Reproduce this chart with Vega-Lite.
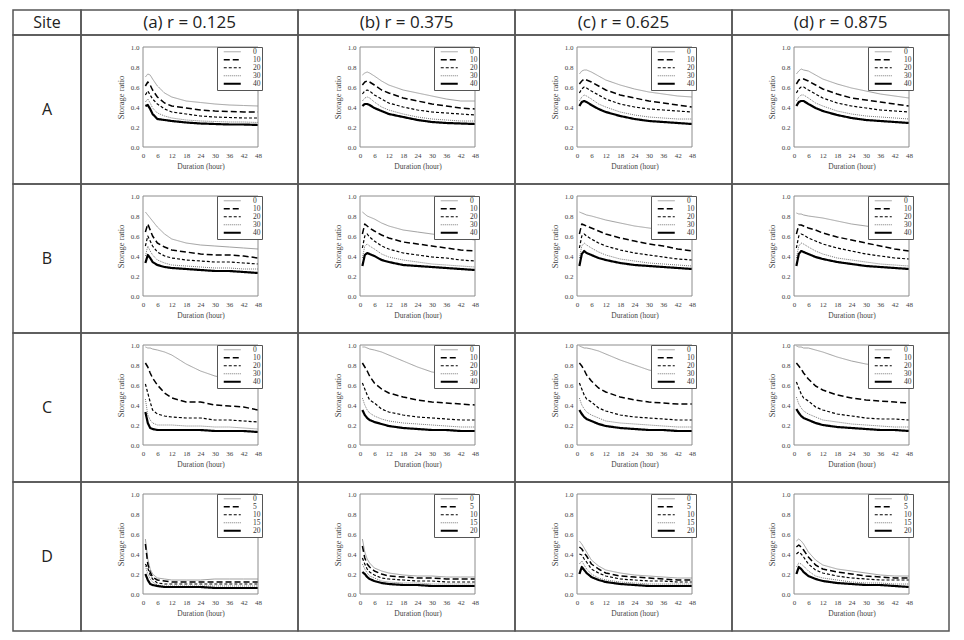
{
"$schema": "https://vega.github.io/schema/vega-lite/v6.json",
"background": "white",
"padding": {"left": 12, "top": 9, "right": 5, "bottom": 5},
"datasets": {
"A": [
{"r":0.125,"d":1,"0":0.70,"10":0.61,"20":0.52,"30":0.45,"40":0.41},
{"r":0.125,"d":2,"0":0.73,"10":0.65,"20":0.56,"30":0.48,"40":0.42},
{"r":0.125,"d":3,"0":0.72,"10":0.62,"20":0.52,"30":0.44,"40":0.38},
{"r":0.125,"d":4,"0":0.68,"10":0.57,"20":0.48,"30":0.39,"40":0.33},
{"r":0.125,"d":6,"0":0.61,"10":0.50,"20":0.43,"30":0.34,"40":0.28},
{"r":0.125,"d":9,"0":0.54,"10":0.44,"20":0.38,"30":0.31,"40":0.27},
{"r":0.125,"d":12,"0":0.50,"10":0.41,"20":0.35,"30":0.29,"40":0.26},
{"r":0.125,"d":18,"0":0.46,"10":0.39,"20":0.33,"30":0.27,"40":0.245},
{"r":0.125,"d":24,"0":0.445,"10":0.37,"20":0.31,"30":0.26,"40":0.235},
{"r":0.125,"d":30,"0":0.43,"10":0.36,"20":0.30,"30":0.255,"40":0.23},
{"r":0.125,"d":36,"0":0.42,"10":0.355,"20":0.295,"30":0.25,"40":0.225},
{"r":0.125,"d":42,"0":0.415,"10":0.35,"20":0.29,"30":0.25,"40":0.225},
{"r":0.125,"d":48,"0":0.41,"10":0.35,"20":0.29,"30":0.245,"40":0.22},
{"r":0.375,"d":1,"0":0.72,"10":0.62,"20":0.53,"30":0.46,"40":0.41},
{"r":0.375,"d":2,"0":0.74,"10":0.65,"20":0.56,"30":0.49,"40":0.43},
{"r":0.375,"d":3,"0":0.75,"10":0.66,"20":0.57,"30":0.50,"40":0.43},
{"r":0.375,"d":4,"0":0.74,"10":0.65,"20":0.56,"30":0.49,"40":0.42},
{"r":0.375,"d":6,"0":0.71,"10":0.62,"20":0.52,"30":0.45,"40":0.39},
{"r":0.375,"d":9,"0":0.66,"10":0.57,"20":0.48,"30":0.40,"40":0.36},
{"r":0.375,"d":12,"0":0.62,"10":0.54,"20":0.44,"30":0.37,"40":0.33},
{"r":0.375,"d":18,"0":0.57,"10":0.49,"20":0.40,"30":0.33,"40":0.30},
{"r":0.375,"d":24,"0":0.54,"10":0.46,"20":0.37,"30":0.30,"40":0.27},
{"r":0.375,"d":30,"0":0.51,"10":0.43,"20":0.35,"30":0.28,"40":0.25},
{"r":0.375,"d":36,"0":0.48,"10":0.41,"20":0.34,"30":0.27,"40":0.24},
{"r":0.375,"d":42,"0":0.46,"10":0.39,"20":0.33,"30":0.26,"40":0.235},
{"r":0.375,"d":48,"0":0.46,"10":0.38,"20":0.32,"30":0.26,"40":0.23},
{"r":0.625,"d":1,"0":0.73,"10":0.63,"20":0.54,"30":0.46,"40":0.41},
{"r":0.625,"d":2,"0":0.76,"10":0.66,"20":0.58,"30":0.50,"40":0.45},
{"r":0.625,"d":3,"0":0.77,"10":0.68,"20":0.60,"30":0.52,"40":0.46},
{"r":0.625,"d":4,"0":0.77,"10":0.67,"20":0.59,"30":0.51,"40":0.45},
{"r":0.625,"d":6,"0":0.75,"10":0.65,"20":0.56,"30":0.48,"40":0.42},
{"r":0.625,"d":9,"0":0.71,"10":0.61,"20":0.52,"30":0.43,"40":0.38},
{"r":0.625,"d":12,"0":0.67,"10":0.57,"20":0.48,"30":0.40,"40":0.35},
{"r":0.625,"d":18,"0":0.62,"10":0.52,"20":0.43,"30":0.35,"40":0.31},
{"r":0.625,"d":24,"0":0.58,"10":0.49,"20":0.40,"30":0.32,"40":0.28},
{"r":0.625,"d":30,"0":0.55,"10":0.46,"20":0.38,"30":0.30,"40":0.26},
{"r":0.625,"d":36,"0":0.53,"10":0.44,"20":0.37,"30":0.29,"40":0.25},
{"r":0.625,"d":42,"0":0.51,"10":0.42,"20":0.36,"30":0.28,"40":0.24},
{"r":0.625,"d":48,"0":0.50,"10":0.40,"20":0.35,"30":0.28,"40":0.23},
{"r":0.875,"d":1,"0":0.73,"10":0.63,"20":0.54,"30":0.46,"40":0.41},
{"r":0.875,"d":2,"0":0.76,"10":0.67,"20":0.58,"30":0.50,"40":0.45},
{"r":0.875,"d":3,"0":0.78,"10":0.68,"20":0.60,"30":0.52,"40":0.46},
{"r":0.875,"d":4,"0":0.77,"10":0.68,"20":0.60,"30":0.52,"40":0.46},
{"r":0.875,"d":6,"0":0.76,"10":0.66,"20":0.57,"30":0.49,"40":0.43},
{"r":0.875,"d":9,"0":0.72,"10":0.62,"20":0.53,"30":0.44,"40":0.39},
{"r":0.875,"d":12,"0":0.68,"10":0.58,"20":0.49,"30":0.41,"40":0.36},
{"r":0.875,"d":18,"0":0.63,"10":0.53,"20":0.44,"30":0.36,"40":0.32},
{"r":0.875,"d":24,"0":0.59,"10":0.49,"20":0.41,"30":0.33,"40":0.29},
{"r":0.875,"d":30,"0":0.56,"10":0.47,"20":0.39,"30":0.31,"40":0.27},
{"r":0.875,"d":36,"0":0.53,"10":0.45,"20":0.37,"30":0.30,"40":0.26},
{"r":0.875,"d":42,"0":0.51,"10":0.43,"20":0.36,"30":0.29,"40":0.25},
{"r":0.875,"d":48,"0":0.49,"10":0.41,"20":0.35,"30":0.28,"40":0.24}
],
"B": [
{"r":0.125,"d":1,"0":0.84,"10":0.64,"20":0.50,"30":0.40,"40":0.33},
{"r":0.125,"d":2,"0":0.81,"10":0.72,"20":0.60,"30":0.50,"40":0.41},
{"r":0.125,"d":3,"0":0.78,"10":0.66,"20":0.55,"30":0.45,"40":0.38},
{"r":0.125,"d":4,"0":0.75,"10":0.60,"20":0.50,"30":0.41,"40":0.34},
{"r":0.125,"d":6,"0":0.69,"10":0.53,"20":0.44,"30":0.36,"40":0.31},
{"r":0.125,"d":9,"0":0.62,"10":0.49,"20":0.40,"30":0.33,"40":0.29},
{"r":0.125,"d":12,"0":0.57,"10":0.46,"20":0.38,"30":0.31,"40":0.28},
{"r":0.125,"d":18,"0":0.53,"10":0.44,"20":0.36,"30":0.30,"40":0.27},
{"r":0.125,"d":24,"0":0.51,"10":0.42,"20":0.35,"30":0.29,"40":0.26},
{"r":0.125,"d":30,"0":0.50,"10":0.41,"20":0.34,"30":0.28,"40":0.25},
{"r":0.125,"d":36,"0":0.49,"10":0.41,"20":0.34,"30":0.28,"40":0.25},
{"r":0.125,"d":42,"0":0.48,"10":0.40,"20":0.33,"30":0.27,"40":0.24},
{"r":0.125,"d":48,"0":0.47,"10":0.38,"20":0.32,"30":0.27,"40":0.23},
{"r":0.375,"d":1,"0":0.84,"10":0.62,"20":0.48,"30":0.38,"40":0.30},
{"r":0.375,"d":2,"0":0.82,"10":0.72,"20":0.60,"30":0.50,"40":0.41},
{"r":0.375,"d":3,"0":0.80,"10":0.70,"20":0.62,"30":0.52,"40":0.43},
{"r":0.375,"d":4,"0":0.79,"10":0.68,"20":0.59,"30":0.50,"40":0.42},
{"r":0.375,"d":6,"0":0.77,"10":0.65,"20":0.55,"30":0.47,"40":0.40},
{"r":0.375,"d":9,"0":0.73,"10":0.61,"20":0.50,"30":0.42,"40":0.36},
{"r":0.375,"d":12,"0":0.70,"10":0.58,"20":0.47,"30":0.39,"40":0.34},
{"r":0.375,"d":18,"0":0.66,"10":0.54,"20":0.43,"30":0.36,"40":0.31},
{"r":0.375,"d":24,"0":0.64,"10":0.52,"20":0.41,"30":0.34,"40":0.30},
{"r":0.375,"d":30,"0":0.62,"10":0.50,"20":0.39,"30":0.32,"40":0.29},
{"r":0.375,"d":36,"0":0.60,"10":0.48,"20":0.38,"30":0.31,"40":0.28},
{"r":0.375,"d":42,"0":0.58,"10":0.46,"20":0.36,"30":0.30,"40":0.27},
{"r":0.375,"d":48,"0":0.56,"10":0.45,"20":0.35,"30":0.29,"40":0.26},
{"r":0.625,"d":1,"0":0.84,"10":0.62,"20":0.48,"30":0.38,"40":0.30},
{"r":0.625,"d":2,"0":0.83,"10":0.72,"20":0.60,"30":0.50,"40":0.42},
{"r":0.625,"d":3,"0":0.82,"10":0.71,"20":0.62,"30":0.53,"40":0.45},
{"r":0.625,"d":4,"0":0.81,"10":0.70,"20":0.60,"30":0.51,"40":0.43},
{"r":0.625,"d":6,"0":0.80,"10":0.68,"20":0.57,"30":0.48,"40":0.41},
{"r":0.625,"d":9,"0":0.78,"10":0.65,"20":0.53,"30":0.44,"40":0.38},
{"r":0.625,"d":12,"0":0.76,"10":0.62,"20":0.50,"30":0.41,"40":0.36},
{"r":0.625,"d":18,"0":0.73,"10":0.58,"20":0.46,"30":0.37,"40":0.33},
{"r":0.625,"d":24,"0":0.70,"10":0.55,"20":0.43,"30":0.35,"40":0.31},
{"r":0.625,"d":30,"0":0.68,"10":0.52,"20":0.41,"30":0.33,"40":0.30},
{"r":0.625,"d":36,"0":0.66,"10":0.50,"20":0.39,"30":0.32,"40":0.29},
{"r":0.625,"d":42,"0":0.64,"10":0.47,"20":0.37,"30":0.31,"40":0.28},
{"r":0.625,"d":48,"0":0.62,"10":0.45,"20":0.36,"30":0.30,"40":0.27},
{"r":0.875,"d":1,"0":0.83,"10":0.62,"20":0.48,"30":0.38,"40":0.30},
{"r":0.875,"d":2,"0":0.82,"10":0.71,"20":0.60,"30":0.50,"40":0.42},
{"r":0.875,"d":3,"0":0.82,"10":0.71,"20":0.62,"30":0.53,"40":0.45},
{"r":0.875,"d":4,"0":0.81,"10":0.70,"20":0.61,"30":0.52,"40":0.44},
{"r":0.875,"d":6,"0":0.80,"10":0.68,"20":0.58,"30":0.49,"40":0.42},
{"r":0.875,"d":9,"0":0.79,"10":0.66,"20":0.55,"30":0.45,"40":0.39},
{"r":0.875,"d":12,"0":0.78,"10":0.63,"20":0.52,"30":0.42,"40":0.37},
{"r":0.875,"d":18,"0":0.75,"10":0.59,"20":0.48,"30":0.38,"40":0.34},
{"r":0.875,"d":24,"0":0.72,"10":0.56,"20":0.45,"30":0.36,"40":0.32},
{"r":0.875,"d":30,"0":0.70,"10":0.53,"20":0.42,"30":0.34,"40":0.30},
{"r":0.875,"d":36,"0":0.68,"10":0.50,"20":0.40,"30":0.32,"40":0.29},
{"r":0.875,"d":42,"0":0.65,"10":0.47,"20":0.38,"30":0.31,"40":0.28},
{"r":0.875,"d":48,"0":0.63,"10":0.45,"20":0.37,"30":0.30,"40":0.27}
],
"C": [
{"r":0.125,"d":1,"0":0.98,"10":0.82,"20":0.61,"30":0.46,"40":0.33},
{"r":0.125,"d":2,"0":0.97,"10":0.78,"20":0.52,"30":0.30,"40":0.22},
{"r":0.125,"d":3,"0":0.97,"10":0.72,"20":0.43,"30":0.25,"40":0.17},
{"r":0.125,"d":4,"0":0.96,"10":0.67,"20":0.35,"30":0.22,"40":0.16},
{"r":0.125,"d":6,"0":0.95,"10":0.60,"20":0.31,"30":0.20,"40":0.15},
{"r":0.125,"d":9,"0":0.93,"10":0.52,"20":0.29,"30":0.20,"40":0.15},
{"r":0.125,"d":12,"0":0.90,"10":0.47,"20":0.28,"30":0.20,"40":0.15},
{"r":0.125,"d":18,"0":0.81,"10":0.43,"20":0.27,"30":0.19,"40":0.15},
{"r":0.125,"d":24,"0":0.74,"10":0.43,"20":0.27,"30":0.19,"40":0.15},
{"r":0.125,"d":30,"0":0.69,"10":0.40,"20":0.25,"30":0.18,"40":0.14},
{"r":0.125,"d":36,"0":0.66,"10":0.39,"20":0.25,"30":0.18,"40":0.14},
{"r":0.125,"d":42,"0":0.63,"10":0.38,"20":0.24,"30":0.17,"40":0.14},
{"r":0.125,"d":48,"0":0.61,"10":0.35,"20":0.23,"30":0.16,"40":0.13},
{"r":0.375,"d":1,"0":0.98,"10":0.82,"20":0.62,"30":0.47,"40":0.35},
{"r":0.375,"d":2,"0":0.98,"10":0.78,"20":0.56,"30":0.40,"40":0.30},
{"r":0.375,"d":3,"0":0.97,"10":0.74,"20":0.50,"30":0.35,"40":0.27},
{"r":0.375,"d":4,"0":0.96,"10":0.69,"20":0.45,"30":0.32,"40":0.25},
{"r":0.375,"d":6,"0":0.95,"10":0.62,"20":0.42,"30":0.29,"40":0.23},
{"r":0.375,"d":9,"0":0.93,"10":0.56,"20":0.36,"30":0.26,"40":0.21},
{"r":0.375,"d":12,"0":0.90,"10":0.52,"20":0.33,"30":0.24,"40":0.19},
{"r":0.375,"d":18,"0":0.84,"10":0.48,"20":0.30,"30":0.22,"40":0.17},
{"r":0.375,"d":24,"0":0.78,"10":0.45,"20":0.28,"30":0.21,"40":0.16},
{"r":0.375,"d":30,"0":0.73,"10":0.43,"20":0.27,"30":0.20,"40":0.15},
{"r":0.375,"d":36,"0":0.71,"10":0.42,"20":0.26,"30":0.19,"40":0.15},
{"r":0.375,"d":42,"0":0.69,"10":0.41,"20":0.25,"30":0.18,"40":0.14},
{"r":0.375,"d":48,"0":0.68,"10":0.40,"20":0.25,"30":0.18,"40":0.14},
{"r":0.625,"d":1,"0":0.99,"10":0.82,"20":0.62,"30":0.47,"40":0.35},
{"r":0.625,"d":2,"0":0.98,"10":0.79,"20":0.56,"30":0.40,"40":0.31},
{"r":0.625,"d":3,"0":0.97,"10":0.75,"20":0.50,"30":0.36,"40":0.28},
{"r":0.625,"d":4,"0":0.97,"10":0.70,"20":0.46,"30":0.33,"40":0.26},
{"r":0.625,"d":6,"0":0.96,"10":0.64,"20":0.43,"30":0.30,"40":0.24},
{"r":0.625,"d":9,"0":0.94,"10":0.57,"20":0.37,"30":0.27,"40":0.21},
{"r":0.625,"d":12,"0":0.91,"10":0.53,"20":0.34,"30":0.24,"40":0.19},
{"r":0.625,"d":18,"0":0.85,"10":0.48,"20":0.30,"30":0.22,"40":0.17},
{"r":0.625,"d":24,"0":0.80,"10":0.45,"20":0.28,"30":0.21,"40":0.16},
{"r":0.625,"d":30,"0":0.75,"10":0.43,"20":0.27,"30":0.20,"40":0.15},
{"r":0.625,"d":36,"0":0.72,"10":0.42,"20":0.26,"30":0.19,"40":0.15},
{"r":0.625,"d":42,"0":0.70,"10":0.41,"20":0.25,"30":0.18,"40":0.14},
{"r":0.625,"d":48,"0":0.69,"10":0.41,"20":0.25,"30":0.18,"40":0.14},
{"r":0.875,"d":1,"0":0.99,"10":0.82,"20":0.63,"30":0.48,"40":0.36},
{"r":0.875,"d":2,"0":0.98,"10":0.79,"20":0.57,"30":0.41,"40":0.32},
{"r":0.875,"d":3,"0":0.98,"10":0.76,"20":0.51,"30":0.37,"40":0.29},
{"r":0.875,"d":4,"0":0.97,"10":0.72,"20":0.47,"30":0.34,"40":0.27},
{"r":0.875,"d":6,"0":0.97,"10":0.66,"20":0.44,"30":0.31,"40":0.25},
{"r":0.875,"d":9,"0":0.95,"10":0.59,"20":0.38,"30":0.28,"40":0.22},
{"r":0.875,"d":12,"0":0.93,"10":0.55,"20":0.35,"30":0.25,"40":0.20},
{"r":0.875,"d":18,"0":0.88,"10":0.50,"20":0.31,"30":0.23,"40":0.18},
{"r":0.875,"d":24,"0":0.84,"10":0.47,"20":0.29,"30":0.21,"40":0.17},
{"r":0.875,"d":30,"0":0.81,"10":0.45,"20":0.27,"30":0.20,"40":0.16},
{"r":0.875,"d":36,"0":0.79,"10":0.44,"20":0.26,"30":0.19,"40":0.15},
{"r":0.875,"d":42,"0":0.78,"10":0.43,"20":0.26,"30":0.18,"40":0.15},
{"r":0.875,"d":48,"0":0.77,"10":0.42,"20":0.25,"30":0.18,"40":0.14}
],
"D": [
{"r":0.125,"d":1,"0":0.55,"5":0.50,"10":0.30,"15":0.28,"20":0.20},
{"r":0.125,"d":2,"0":0.35,"5":0.30,"10":0.26,"15":0.20,"20":0.14},
{"r":0.125,"d":3,"0":0.25,"5":0.22,"10":0.19,"15":0.15,"20":0.10},
{"r":0.125,"d":4,"0":0.20,"5":0.17,"10":0.15,"15":0.12,"20":0.09},
{"r":0.125,"d":6,"0":0.16,"5":0.14,"10":0.11,"15":0.09,"20":0.08},
{"r":0.125,"d":9,"0":0.15,"5":0.13,"10":0.10,"15":0.08,"20":0.07},
{"r":0.125,"d":12,"0":0.14,"5":0.12,"10":0.10,"15":0.08,"20":0.07},
{"r":0.125,"d":18,"0":0.14,"5":0.12,"10":0.10,"15":0.08,"20":0.07},
{"r":0.125,"d":24,"0":0.14,"5":0.12,"10":0.10,"15":0.08,"20":0.07},
{"r":0.125,"d":30,"0":0.15,"5":0.12,"10":0.10,"15":0.08,"20":0.06},
{"r":0.125,"d":36,"0":0.15,"5":0.12,"10":0.10,"15":0.08,"20":0.06},
{"r":0.125,"d":42,"0":0.15,"5":0.12,"10":0.10,"15":0.08,"20":0.06},
{"r":0.125,"d":48,"0":0.15,"5":0.12,"10":0.10,"15":0.08,"20":0.06},
{"r":0.375,"d":1,"0":0.55,"5":0.48,"10":0.36,"15":0.30,"20":0.22},
{"r":0.375,"d":2,"0":0.42,"5":0.36,"10":0.30,"15":0.25,"20":0.20},
{"r":0.375,"d":3,"0":0.35,"5":0.30,"10":0.25,"15":0.21,"20":0.17},
{"r":0.375,"d":4,"0":0.31,"5":0.27,"10":0.22,"15":0.18,"20":0.15},
{"r":0.375,"d":6,"0":0.26,"5":0.23,"10":0.19,"15":0.16,"20":0.13},
{"r":0.375,"d":9,"0":0.23,"5":0.20,"10":0.16,"15":0.13,"20":0.11},
{"r":0.375,"d":12,"0":0.21,"5":0.18,"10":0.15,"15":0.12,"20":0.10},
{"r":0.375,"d":18,"0":0.19,"5":0.17,"10":0.14,"15":0.11,"20":0.09},
{"r":0.375,"d":24,"0":0.18,"5":0.16,"10":0.13,"15":0.11,"20":0.09},
{"r":0.375,"d":30,"0":0.18,"5":0.16,"10":0.13,"15":0.10,"20":0.08},
{"r":0.375,"d":36,"0":0.17,"5":0.15,"10":0.12,"15":0.10,"20":0.08},
{"r":0.375,"d":42,"0":0.17,"5":0.15,"10":0.12,"15":0.10,"20":0.08},
{"r":0.375,"d":48,"0":0.17,"5":0.15,"10":0.12,"15":0.10,"20":0.08},
{"r":0.625,"d":1,"0":0.53,"5":0.47,"10":0.40,"15":0.30,"20":0.20},
{"r":0.625,"d":2,"0":0.50,"5":0.45,"10":0.39,"15":0.33,"20":0.27},
{"r":0.625,"d":3,"0":0.46,"5":0.41,"10":0.35,"15":0.29,"20":0.24},
{"r":0.625,"d":4,"0":0.42,"5":0.38,"10":0.32,"15":0.25,"20":0.21},
{"r":0.625,"d":6,"0":0.34,"5":0.30,"10":0.25,"15":0.20,"20":0.17},
{"r":0.625,"d":9,"0":0.28,"5":0.25,"10":0.21,"15":0.16,"20":0.14},
{"r":0.625,"d":12,"0":0.24,"5":0.21,"10":0.18,"15":0.14,"20":0.12},
{"r":0.625,"d":18,"0":0.21,"5":0.18,"10":0.15,"15":0.12,"20":0.10},
{"r":0.625,"d":24,"0":0.19,"5":0.17,"10":0.14,"15":0.11,"20":0.09},
{"r":0.625,"d":30,"0":0.18,"5":0.16,"10":0.13,"15":0.10,"20":0.08},
{"r":0.625,"d":36,"0":0.17,"5":0.15,"10":0.13,"15":0.10,"20":0.08},
{"r":0.625,"d":42,"0":0.16,"5":0.14,"10":0.12,"15":0.10,"20":0.08},
{"r":0.625,"d":48,"0":0.16,"5":0.14,"10":0.12,"15":0.10,"20":0.08},
{"r":0.875,"d":1,"0":0.53,"5":0.47,"10":0.40,"15":0.27,"20":0.20},
{"r":0.875,"d":2,"0":0.55,"5":0.49,"10":0.42,"15":0.31,"20":0.27},
{"r":0.875,"d":3,"0":0.53,"5":0.47,"10":0.40,"15":0.30,"20":0.25},
{"r":0.875,"d":4,"0":0.50,"5":0.44,"10":0.37,"15":0.28,"20":0.22},
{"r":0.875,"d":6,"0":0.42,"5":0.37,"10":0.30,"15":0.23,"20":0.18},
{"r":0.875,"d":9,"0":0.34,"5":0.29,"10":0.24,"15":0.18,"20":0.15},
{"r":0.875,"d":12,"0":0.29,"5":0.25,"10":0.21,"15":0.16,"20":0.13},
{"r":0.875,"d":18,"0":0.25,"5":0.22,"10":0.18,"15":0.14,"20":0.11},
{"r":0.875,"d":24,"0":0.23,"5":0.20,"10":0.16,"15":0.12,"20":0.10},
{"r":0.875,"d":30,"0":0.21,"5":0.18,"10":0.15,"15":0.11,"20":0.09},
{"r":0.875,"d":36,"0":0.19,"5":0.17,"10":0.14,"15":0.11,"20":0.09},
{"r":0.875,"d":42,"0":0.18,"5":0.16,"10":0.14,"15":0.10,"20":0.08},
{"r":0.875,"d":48,"0":0.18,"5":0.16,"10":0.14,"15":0.10,"20":0.07}
]
},
"columns": 5,
"spacing": 0,
"bounds": "flush",
"resolve": {"scale": {"color": "independent", "strokeDash": "independent", "strokeWidth": "independent"}},
"concat": [
 {"width": 68, "height": 25, "view": {"stroke": "#555555", "strokeWidth": 1.5}, "data": {"values": [{"t": "Site"}]}, "mark": {"type": "text", "font": "Open Sans", "fontSize": 16, "color": "#222222"}, "encoding": {"text": {"field": "t"}, "x": {"datum": 0.5, "type": "quantitative", "scale": {"domain": [0, 1]}, "axis": null}, "y": {"datum": 0.5, "type": "quantitative", "scale": {"domain": [0, 1]}, "axis": null}}},
 {"width": 217, "height": 25, "view": {"stroke": "#555555", "strokeWidth": 1.5}, "data": {"values": [{"t": "(a) r = 0.125"}]}, "mark": {"type": "text", "font": "Open Sans", "fontSize": 17, "color": "#222222"}, "encoding": {"text": {"field": "t"}, "x": {"datum": 0.5, "type": "quantitative", "scale": {"domain": [0, 1]}, "axis": null}, "y": {"datum": 0.5, "type": "quantitative", "scale": {"domain": [0, 1]}, "axis": null}}},
 {"width": 217, "height": 25, "view": {"stroke": "#555555", "strokeWidth": 1.5}, "data": {"values": [{"t": "(b) r = 0.375"}]}, "mark": {"type": "text", "font": "Open Sans", "fontSize": 17, "color": "#222222"}, "encoding": {"text": {"field": "t"}, "x": {"datum": 0.5, "type": "quantitative", "scale": {"domain": [0, 1]}, "axis": null}, "y": {"datum": 0.5, "type": "quantitative", "scale": {"domain": [0, 1]}, "axis": null}}},
 {"width": 217, "height": 25, "view": {"stroke": "#555555", "strokeWidth": 1.5}, "data": {"values": [{"t": "(c) r = 0.625"}]}, "mark": {"type": "text", "font": "Open Sans", "fontSize": 17, "color": "#222222"}, "encoding": {"text": {"field": "t"}, "x": {"datum": 0.5, "type": "quantitative", "scale": {"domain": [0, 1]}, "axis": null}, "y": {"datum": 0.5, "type": "quantitative", "scale": {"domain": [0, 1]}, "axis": null}}},
 {"width": 217, "height": 25, "view": {"stroke": "#555555", "strokeWidth": 1.5}, "data": {"values": [{"t": "(d) r = 0.875"}]}, "mark": {"type": "text", "font": "Open Sans", "fontSize": 17, "color": "#222222"}, "encoding": {"text": {"field": "t"}, "x": {"datum": 0.5, "type": "quantitative", "scale": {"domain": [0, 1]}, "axis": null}, "y": {"datum": 0.5, "type": "quantitative", "scale": {"domain": [0, 1]}, "axis": null}}},
 {"width": 68, "height": 149, "view": {"stroke": "#555555", "strokeWidth": 1.5}, "data": {"values": [{"t": "A"}]}, "mark": {"type": "text", "font": "Open Sans", "fontSize": 16, "color": "#222222"}, "encoding": {"text": {"field": "t"}, "x": {"datum": 0.5, "type": "quantitative", "scale": {"domain": [0, 1]}, "axis": null}, "y": {"datum": 0.5, "type": "quantitative", "scale": {"domain": [0, 1]}, "axis": null}}},
 {"width":217,"height":149,"layer":[
  {"data":{"name":"A"},"transform":[{"filter":"datum.r == 0.125"},{"fold":["0","10","20","30","40"],"as":["level","ratio"]}],
   "mark":{"type":"line","strokeCap":"butt","strokeJoin":"round"},
   "encoding":{
    "x":{"field":"d","type":"quantitative","title":"Duration (hour)","scale":{"domain":[0,48],"range":[62,177]},"axis":{"values":[0,6,12,18,24,30,36,42,48],"offset":-37,"labelOverlap":false}},
    "y":{"field":"ratio","type":"quantitative","title":"Storage ratio","scale":{"domain":[0,1],"range":[112,12]},"axis":{"values":[0,0.2,0.4,0.6,0.8,1],"format":".1f","offset":-62,"labelOverlap":false}},
    "color":{"field":"level","type":"nominal","title":null,"scale":{"domain":["0","10","20","30","40"],"range":["#a0a0a0","#000000","#000000","#777777","#000000"]}},
    "strokeDash":{"field":"level","type":"nominal","title":null,"scale":{"domain":["0","10","20","30","40"],"range":[[1,0],[6,3],[3,2],[1,1],[1,0]]}},
    "strokeWidth":{"field":"level","type":"nominal","title":null,"scale":{"type":"ordinal","domain":["0","10","20","30","40"],"range":[1,1.5,1.2,1,2.2]}}
   }},
  {"data":{"values":[{}]},"mark":{"type":"rect","fill":"transparent","stroke":"#8c8c8c","strokeWidth":1},
   "encoding":{"x":{"datum":0,"type":"quantitative","title":"Duration (hour)","scale":{"domain":[0,48],"range":[62,177]},"axis":{"values":[0,6,12,18,24,30,36,42,48],"offset":-37,"labelOverlap":false}},"x2":{"datum":48},"y":{"datum":0,"type":"quantitative","title":"Storage ratio","scale":{"domain":[0,1],"range":[112,12]},"axis":{"values":[0,0.2,0.4,0.6,0.8,1],"format":".1f","offset":-62,"labelOverlap":false}},"y2":{"datum":1}}}
 ]},
 {"width":217,"height":149,"layer":[
  {"data":{"name":"A"},"transform":[{"filter":"datum.r == 0.375"},{"fold":["0","10","20","30","40"],"as":["level","ratio"]}],
   "mark":{"type":"line","strokeCap":"butt","strokeJoin":"round"},
   "encoding":{
    "x":{"field":"d","type":"quantitative","title":"Duration (hour)","scale":{"domain":[0,48],"range":[62,177]},"axis":{"values":[0,6,12,18,24,30,36,42,48],"offset":-37,"labelOverlap":false}},
    "y":{"field":"ratio","type":"quantitative","title":"Storage ratio","scale":{"domain":[0,1],"range":[112,12]},"axis":{"values":[0,0.2,0.4,0.6,0.8,1],"format":".1f","offset":-62,"labelOverlap":false}},
    "color":{"field":"level","type":"nominal","title":null,"scale":{"domain":["0","10","20","30","40"],"range":["#a0a0a0","#000000","#000000","#777777","#000000"]}},
    "strokeDash":{"field":"level","type":"nominal","title":null,"scale":{"domain":["0","10","20","30","40"],"range":[[1,0],[6,3],[3,2],[1,1],[1,0]]}},
    "strokeWidth":{"field":"level","type":"nominal","title":null,"scale":{"type":"ordinal","domain":["0","10","20","30","40"],"range":[1,1.5,1.2,1,2.2]}}
   }},
  {"data":{"values":[{}]},"mark":{"type":"rect","fill":"transparent","stroke":"#8c8c8c","strokeWidth":1},
   "encoding":{"x":{"datum":0,"type":"quantitative","title":"Duration (hour)","scale":{"domain":[0,48],"range":[62,177]},"axis":{"values":[0,6,12,18,24,30,36,42,48],"offset":-37,"labelOverlap":false}},"x2":{"datum":48},"y":{"datum":0,"type":"quantitative","title":"Storage ratio","scale":{"domain":[0,1],"range":[112,12]},"axis":{"values":[0,0.2,0.4,0.6,0.8,1],"format":".1f","offset":-62,"labelOverlap":false}},"y2":{"datum":1}}}
 ]},
 {"width":217,"height":149,"layer":[
  {"data":{"name":"A"},"transform":[{"filter":"datum.r == 0.625"},{"fold":["0","10","20","30","40"],"as":["level","ratio"]}],
   "mark":{"type":"line","strokeCap":"butt","strokeJoin":"round"},
   "encoding":{
    "x":{"field":"d","type":"quantitative","title":"Duration (hour)","scale":{"domain":[0,48],"range":[62,177]},"axis":{"values":[0,6,12,18,24,30,36,42,48],"offset":-37,"labelOverlap":false}},
    "y":{"field":"ratio","type":"quantitative","title":"Storage ratio","scale":{"domain":[0,1],"range":[112,12]},"axis":{"values":[0,0.2,0.4,0.6,0.8,1],"format":".1f","offset":-62,"labelOverlap":false}},
    "color":{"field":"level","type":"nominal","title":null,"scale":{"domain":["0","10","20","30","40"],"range":["#a0a0a0","#000000","#000000","#777777","#000000"]}},
    "strokeDash":{"field":"level","type":"nominal","title":null,"scale":{"domain":["0","10","20","30","40"],"range":[[1,0],[6,3],[3,2],[1,1],[1,0]]}},
    "strokeWidth":{"field":"level","type":"nominal","title":null,"scale":{"type":"ordinal","domain":["0","10","20","30","40"],"range":[1,1.5,1.2,1,2.2]}}
   }},
  {"data":{"values":[{}]},"mark":{"type":"rect","fill":"transparent","stroke":"#8c8c8c","strokeWidth":1},
   "encoding":{"x":{"datum":0,"type":"quantitative","title":"Duration (hour)","scale":{"domain":[0,48],"range":[62,177]},"axis":{"values":[0,6,12,18,24,30,36,42,48],"offset":-37,"labelOverlap":false}},"x2":{"datum":48},"y":{"datum":0,"type":"quantitative","title":"Storage ratio","scale":{"domain":[0,1],"range":[112,12]},"axis":{"values":[0,0.2,0.4,0.6,0.8,1],"format":".1f","offset":-62,"labelOverlap":false}},"y2":{"datum":1}}}
 ]},
 {"width":217,"height":149,"layer":[
  {"data":{"name":"A"},"transform":[{"filter":"datum.r == 0.875"},{"fold":["0","10","20","30","40"],"as":["level","ratio"]}],
   "mark":{"type":"line","strokeCap":"butt","strokeJoin":"round"},
   "encoding":{
    "x":{"field":"d","type":"quantitative","title":"Duration (hour)","scale":{"domain":[0,48],"range":[62,177]},"axis":{"values":[0,6,12,18,24,30,36,42,48],"offset":-37,"labelOverlap":false}},
    "y":{"field":"ratio","type":"quantitative","title":"Storage ratio","scale":{"domain":[0,1],"range":[112,12]},"axis":{"values":[0,0.2,0.4,0.6,0.8,1],"format":".1f","offset":-62,"labelOverlap":false}},
    "color":{"field":"level","type":"nominal","title":null,"scale":{"domain":["0","10","20","30","40"],"range":["#a0a0a0","#000000","#000000","#777777","#000000"]}},
    "strokeDash":{"field":"level","type":"nominal","title":null,"scale":{"domain":["0","10","20","30","40"],"range":[[1,0],[6,3],[3,2],[1,1],[1,0]]}},
    "strokeWidth":{"field":"level","type":"nominal","title":null,"scale":{"type":"ordinal","domain":["0","10","20","30","40"],"range":[1,1.5,1.2,1,2.2]}}
   }},
  {"data":{"values":[{}]},"mark":{"type":"rect","fill":"transparent","stroke":"#8c8c8c","strokeWidth":1},
   "encoding":{"x":{"datum":0,"type":"quantitative","title":"Duration (hour)","scale":{"domain":[0,48],"range":[62,177]},"axis":{"values":[0,6,12,18,24,30,36,42,48],"offset":-37,"labelOverlap":false}},"x2":{"datum":48},"y":{"datum":0,"type":"quantitative","title":"Storage ratio","scale":{"domain":[0,1],"range":[112,12]},"axis":{"values":[0,0.2,0.4,0.6,0.8,1],"format":".1f","offset":-62,"labelOverlap":false}},"y2":{"datum":1}}}
 ]},
 {"width": 68, "height": 149, "view": {"stroke": "#555555", "strokeWidth": 1.5}, "data": {"values": [{"t": "B"}]}, "mark": {"type": "text", "font": "Open Sans", "fontSize": 16, "color": "#222222"}, "encoding": {"text": {"field": "t"}, "x": {"datum": 0.5, "type": "quantitative", "scale": {"domain": [0, 1]}, "axis": null}, "y": {"datum": 0.5, "type": "quantitative", "scale": {"domain": [0, 1]}, "axis": null}}},
 {"width":217,"height":149,"layer":[
  {"data":{"name":"B"},"transform":[{"filter":"datum.r == 0.125"},{"fold":["0","10","20","30","40"],"as":["level","ratio"]}],
   "mark":{"type":"line","strokeCap":"butt","strokeJoin":"round"},
   "encoding":{
    "x":{"field":"d","type":"quantitative","title":"Duration (hour)","scale":{"domain":[0,48],"range":[62,177]},"axis":{"values":[0,6,12,18,24,30,36,42,48],"offset":-37,"labelOverlap":false}},
    "y":{"field":"ratio","type":"quantitative","title":"Storage ratio","scale":{"domain":[0,1],"range":[112,12]},"axis":{"values":[0,0.2,0.4,0.6,0.8,1],"format":".1f","offset":-62,"labelOverlap":false}},
    "color":{"field":"level","type":"nominal","title":null,"scale":{"domain":["0","10","20","30","40"],"range":["#a0a0a0","#000000","#000000","#777777","#000000"]}},
    "strokeDash":{"field":"level","type":"nominal","title":null,"scale":{"domain":["0","10","20","30","40"],"range":[[1,0],[6,3],[3,2],[1,1],[1,0]]}},
    "strokeWidth":{"field":"level","type":"nominal","title":null,"scale":{"type":"ordinal","domain":["0","10","20","30","40"],"range":[1,1.5,1.2,1,2.2]}}
   }},
  {"data":{"values":[{}]},"mark":{"type":"rect","fill":"transparent","stroke":"#8c8c8c","strokeWidth":1},
   "encoding":{"x":{"datum":0,"type":"quantitative","title":"Duration (hour)","scale":{"domain":[0,48],"range":[62,177]},"axis":{"values":[0,6,12,18,24,30,36,42,48],"offset":-37,"labelOverlap":false}},"x2":{"datum":48},"y":{"datum":0,"type":"quantitative","title":"Storage ratio","scale":{"domain":[0,1],"range":[112,12]},"axis":{"values":[0,0.2,0.4,0.6,0.8,1],"format":".1f","offset":-62,"labelOverlap":false}},"y2":{"datum":1}}}
 ]},
 {"width":217,"height":149,"layer":[
  {"data":{"name":"B"},"transform":[{"filter":"datum.r == 0.375"},{"fold":["0","10","20","30","40"],"as":["level","ratio"]}],
   "mark":{"type":"line","strokeCap":"butt","strokeJoin":"round"},
   "encoding":{
    "x":{"field":"d","type":"quantitative","title":"Duration (hour)","scale":{"domain":[0,48],"range":[62,177]},"axis":{"values":[0,6,12,18,24,30,36,42,48],"offset":-37,"labelOverlap":false}},
    "y":{"field":"ratio","type":"quantitative","title":"Storage ratio","scale":{"domain":[0,1],"range":[112,12]},"axis":{"values":[0,0.2,0.4,0.6,0.8,1],"format":".1f","offset":-62,"labelOverlap":false}},
    "color":{"field":"level","type":"nominal","title":null,"scale":{"domain":["0","10","20","30","40"],"range":["#a0a0a0","#000000","#000000","#777777","#000000"]}},
    "strokeDash":{"field":"level","type":"nominal","title":null,"scale":{"domain":["0","10","20","30","40"],"range":[[1,0],[6,3],[3,2],[1,1],[1,0]]}},
    "strokeWidth":{"field":"level","type":"nominal","title":null,"scale":{"type":"ordinal","domain":["0","10","20","30","40"],"range":[1,1.5,1.2,1,2.2]}}
   }},
  {"data":{"values":[{}]},"mark":{"type":"rect","fill":"transparent","stroke":"#8c8c8c","strokeWidth":1},
   "encoding":{"x":{"datum":0,"type":"quantitative","title":"Duration (hour)","scale":{"domain":[0,48],"range":[62,177]},"axis":{"values":[0,6,12,18,24,30,36,42,48],"offset":-37,"labelOverlap":false}},"x2":{"datum":48},"y":{"datum":0,"type":"quantitative","title":"Storage ratio","scale":{"domain":[0,1],"range":[112,12]},"axis":{"values":[0,0.2,0.4,0.6,0.8,1],"format":".1f","offset":-62,"labelOverlap":false}},"y2":{"datum":1}}}
 ]},
 {"width":217,"height":149,"layer":[
  {"data":{"name":"B"},"transform":[{"filter":"datum.r == 0.625"},{"fold":["0","10","20","30","40"],"as":["level","ratio"]}],
   "mark":{"type":"line","strokeCap":"butt","strokeJoin":"round"},
   "encoding":{
    "x":{"field":"d","type":"quantitative","title":"Duration (hour)","scale":{"domain":[0,48],"range":[62,177]},"axis":{"values":[0,6,12,18,24,30,36,42,48],"offset":-37,"labelOverlap":false}},
    "y":{"field":"ratio","type":"quantitative","title":"Storage ratio","scale":{"domain":[0,1],"range":[112,12]},"axis":{"values":[0,0.2,0.4,0.6,0.8,1],"format":".1f","offset":-62,"labelOverlap":false}},
    "color":{"field":"level","type":"nominal","title":null,"scale":{"domain":["0","10","20","30","40"],"range":["#a0a0a0","#000000","#000000","#777777","#000000"]}},
    "strokeDash":{"field":"level","type":"nominal","title":null,"scale":{"domain":["0","10","20","30","40"],"range":[[1,0],[6,3],[3,2],[1,1],[1,0]]}},
    "strokeWidth":{"field":"level","type":"nominal","title":null,"scale":{"type":"ordinal","domain":["0","10","20","30","40"],"range":[1,1.5,1.2,1,2.2]}}
   }},
  {"data":{"values":[{}]},"mark":{"type":"rect","fill":"transparent","stroke":"#8c8c8c","strokeWidth":1},
   "encoding":{"x":{"datum":0,"type":"quantitative","title":"Duration (hour)","scale":{"domain":[0,48],"range":[62,177]},"axis":{"values":[0,6,12,18,24,30,36,42,48],"offset":-37,"labelOverlap":false}},"x2":{"datum":48},"y":{"datum":0,"type":"quantitative","title":"Storage ratio","scale":{"domain":[0,1],"range":[112,12]},"axis":{"values":[0,0.2,0.4,0.6,0.8,1],"format":".1f","offset":-62,"labelOverlap":false}},"y2":{"datum":1}}}
 ]},
 {"width":217,"height":149,"layer":[
  {"data":{"name":"B"},"transform":[{"filter":"datum.r == 0.875"},{"fold":["0","10","20","30","40"],"as":["level","ratio"]}],
   "mark":{"type":"line","strokeCap":"butt","strokeJoin":"round"},
   "encoding":{
    "x":{"field":"d","type":"quantitative","title":"Duration (hour)","scale":{"domain":[0,48],"range":[62,177]},"axis":{"values":[0,6,12,18,24,30,36,42,48],"offset":-37,"labelOverlap":false}},
    "y":{"field":"ratio","type":"quantitative","title":"Storage ratio","scale":{"domain":[0,1],"range":[112,12]},"axis":{"values":[0,0.2,0.4,0.6,0.8,1],"format":".1f","offset":-62,"labelOverlap":false}},
    "color":{"field":"level","type":"nominal","title":null,"scale":{"domain":["0","10","20","30","40"],"range":["#a0a0a0","#000000","#000000","#777777","#000000"]}},
    "strokeDash":{"field":"level","type":"nominal","title":null,"scale":{"domain":["0","10","20","30","40"],"range":[[1,0],[6,3],[3,2],[1,1],[1,0]]}},
    "strokeWidth":{"field":"level","type":"nominal","title":null,"scale":{"type":"ordinal","domain":["0","10","20","30","40"],"range":[1,1.5,1.2,1,2.2]}}
   }},
  {"data":{"values":[{}]},"mark":{"type":"rect","fill":"transparent","stroke":"#8c8c8c","strokeWidth":1},
   "encoding":{"x":{"datum":0,"type":"quantitative","title":"Duration (hour)","scale":{"domain":[0,48],"range":[62,177]},"axis":{"values":[0,6,12,18,24,30,36,42,48],"offset":-37,"labelOverlap":false}},"x2":{"datum":48},"y":{"datum":0,"type":"quantitative","title":"Storage ratio","scale":{"domain":[0,1],"range":[112,12]},"axis":{"values":[0,0.2,0.4,0.6,0.8,1],"format":".1f","offset":-62,"labelOverlap":false}},"y2":{"datum":1}}}
 ]},
 {"width": 68, "height": 149, "view": {"stroke": "#555555", "strokeWidth": 1.5}, "data": {"values": [{"t": "C"}]}, "mark": {"type": "text", "font": "Open Sans", "fontSize": 16, "color": "#222222"}, "encoding": {"text": {"field": "t"}, "x": {"datum": 0.5, "type": "quantitative", "scale": {"domain": [0, 1]}, "axis": null}, "y": {"datum": 0.5, "type": "quantitative", "scale": {"domain": [0, 1]}, "axis": null}}},
 {"width":217,"height":149,"layer":[
  {"data":{"name":"C"},"transform":[{"filter":"datum.r == 0.125"},{"fold":["0","10","20","30","40"],"as":["level","ratio"]}],
   "mark":{"type":"line","strokeCap":"butt","strokeJoin":"round"},
   "encoding":{
    "x":{"field":"d","type":"quantitative","title":"Duration (hour)","scale":{"domain":[0,48],"range":[62,177]},"axis":{"values":[0,6,12,18,24,30,36,42,48],"offset":-37,"labelOverlap":false}},
    "y":{"field":"ratio","type":"quantitative","title":"Storage ratio","scale":{"domain":[0,1],"range":[112,12]},"axis":{"values":[0,0.2,0.4,0.6,0.8,1],"format":".1f","offset":-62,"labelOverlap":false}},
    "color":{"field":"level","type":"nominal","title":null,"scale":{"domain":["0","10","20","30","40"],"range":["#a0a0a0","#000000","#000000","#777777","#000000"]}},
    "strokeDash":{"field":"level","type":"nominal","title":null,"scale":{"domain":["0","10","20","30","40"],"range":[[1,0],[6,3],[3,2],[1,1],[1,0]]}},
    "strokeWidth":{"field":"level","type":"nominal","title":null,"scale":{"type":"ordinal","domain":["0","10","20","30","40"],"range":[1,1.5,1.2,1,2.2]}}
   }},
  {"data":{"values":[{}]},"mark":{"type":"rect","fill":"transparent","stroke":"#8c8c8c","strokeWidth":1},
   "encoding":{"x":{"datum":0,"type":"quantitative","title":"Duration (hour)","scale":{"domain":[0,48],"range":[62,177]},"axis":{"values":[0,6,12,18,24,30,36,42,48],"offset":-37,"labelOverlap":false}},"x2":{"datum":48},"y":{"datum":0,"type":"quantitative","title":"Storage ratio","scale":{"domain":[0,1],"range":[112,12]},"axis":{"values":[0,0.2,0.4,0.6,0.8,1],"format":".1f","offset":-62,"labelOverlap":false}},"y2":{"datum":1}}}
 ]},
 {"width":217,"height":149,"layer":[
  {"data":{"name":"C"},"transform":[{"filter":"datum.r == 0.375"},{"fold":["0","10","20","30","40"],"as":["level","ratio"]}],
   "mark":{"type":"line","strokeCap":"butt","strokeJoin":"round"},
   "encoding":{
    "x":{"field":"d","type":"quantitative","title":"Duration (hour)","scale":{"domain":[0,48],"range":[62,177]},"axis":{"values":[0,6,12,18,24,30,36,42,48],"offset":-37,"labelOverlap":false}},
    "y":{"field":"ratio","type":"quantitative","title":"Storage ratio","scale":{"domain":[0,1],"range":[112,12]},"axis":{"values":[0,0.2,0.4,0.6,0.8,1],"format":".1f","offset":-62,"labelOverlap":false}},
    "color":{"field":"level","type":"nominal","title":null,"scale":{"domain":["0","10","20","30","40"],"range":["#a0a0a0","#000000","#000000","#777777","#000000"]}},
    "strokeDash":{"field":"level","type":"nominal","title":null,"scale":{"domain":["0","10","20","30","40"],"range":[[1,0],[6,3],[3,2],[1,1],[1,0]]}},
    "strokeWidth":{"field":"level","type":"nominal","title":null,"scale":{"type":"ordinal","domain":["0","10","20","30","40"],"range":[1,1.5,1.2,1,2.2]}}
   }},
  {"data":{"values":[{}]},"mark":{"type":"rect","fill":"transparent","stroke":"#8c8c8c","strokeWidth":1},
   "encoding":{"x":{"datum":0,"type":"quantitative","title":"Duration (hour)","scale":{"domain":[0,48],"range":[62,177]},"axis":{"values":[0,6,12,18,24,30,36,42,48],"offset":-37,"labelOverlap":false}},"x2":{"datum":48},"y":{"datum":0,"type":"quantitative","title":"Storage ratio","scale":{"domain":[0,1],"range":[112,12]},"axis":{"values":[0,0.2,0.4,0.6,0.8,1],"format":".1f","offset":-62,"labelOverlap":false}},"y2":{"datum":1}}}
 ]},
 {"width":217,"height":149,"layer":[
  {"data":{"name":"C"},"transform":[{"filter":"datum.r == 0.625"},{"fold":["0","10","20","30","40"],"as":["level","ratio"]}],
   "mark":{"type":"line","strokeCap":"butt","strokeJoin":"round"},
   "encoding":{
    "x":{"field":"d","type":"quantitative","title":"Duration (hour)","scale":{"domain":[0,48],"range":[62,177]},"axis":{"values":[0,6,12,18,24,30,36,42,48],"offset":-37,"labelOverlap":false}},
    "y":{"field":"ratio","type":"quantitative","title":"Storage ratio","scale":{"domain":[0,1],"range":[112,12]},"axis":{"values":[0,0.2,0.4,0.6,0.8,1],"format":".1f","offset":-62,"labelOverlap":false}},
    "color":{"field":"level","type":"nominal","title":null,"scale":{"domain":["0","10","20","30","40"],"range":["#a0a0a0","#000000","#000000","#777777","#000000"]}},
    "strokeDash":{"field":"level","type":"nominal","title":null,"scale":{"domain":["0","10","20","30","40"],"range":[[1,0],[6,3],[3,2],[1,1],[1,0]]}},
    "strokeWidth":{"field":"level","type":"nominal","title":null,"scale":{"type":"ordinal","domain":["0","10","20","30","40"],"range":[1,1.5,1.2,1,2.2]}}
   }},
  {"data":{"values":[{}]},"mark":{"type":"rect","fill":"transparent","stroke":"#8c8c8c","strokeWidth":1},
   "encoding":{"x":{"datum":0,"type":"quantitative","title":"Duration (hour)","scale":{"domain":[0,48],"range":[62,177]},"axis":{"values":[0,6,12,18,24,30,36,42,48],"offset":-37,"labelOverlap":false}},"x2":{"datum":48},"y":{"datum":0,"type":"quantitative","title":"Storage ratio","scale":{"domain":[0,1],"range":[112,12]},"axis":{"values":[0,0.2,0.4,0.6,0.8,1],"format":".1f","offset":-62,"labelOverlap":false}},"y2":{"datum":1}}}
 ]},
 {"width":217,"height":149,"layer":[
  {"data":{"name":"C"},"transform":[{"filter":"datum.r == 0.875"},{"fold":["0","10","20","30","40"],"as":["level","ratio"]}],
   "mark":{"type":"line","strokeCap":"butt","strokeJoin":"round"},
   "encoding":{
    "x":{"field":"d","type":"quantitative","title":"Duration (hour)","scale":{"domain":[0,48],"range":[62,177]},"axis":{"values":[0,6,12,18,24,30,36,42,48],"offset":-37,"labelOverlap":false}},
    "y":{"field":"ratio","type":"quantitative","title":"Storage ratio","scale":{"domain":[0,1],"range":[112,12]},"axis":{"values":[0,0.2,0.4,0.6,0.8,1],"format":".1f","offset":-62,"labelOverlap":false}},
    "color":{"field":"level","type":"nominal","title":null,"scale":{"domain":["0","10","20","30","40"],"range":["#a0a0a0","#000000","#000000","#777777","#000000"]}},
    "strokeDash":{"field":"level","type":"nominal","title":null,"scale":{"domain":["0","10","20","30","40"],"range":[[1,0],[6,3],[3,2],[1,1],[1,0]]}},
    "strokeWidth":{"field":"level","type":"nominal","title":null,"scale":{"type":"ordinal","domain":["0","10","20","30","40"],"range":[1,1.5,1.2,1,2.2]}}
   }},
  {"data":{"values":[{}]},"mark":{"type":"rect","fill":"transparent","stroke":"#8c8c8c","strokeWidth":1},
   "encoding":{"x":{"datum":0,"type":"quantitative","title":"Duration (hour)","scale":{"domain":[0,48],"range":[62,177]},"axis":{"values":[0,6,12,18,24,30,36,42,48],"offset":-37,"labelOverlap":false}},"x2":{"datum":48},"y":{"datum":0,"type":"quantitative","title":"Storage ratio","scale":{"domain":[0,1],"range":[112,12]},"axis":{"values":[0,0.2,0.4,0.6,0.8,1],"format":".1f","offset":-62,"labelOverlap":false}},"y2":{"datum":1}}}
 ]},
 {"width": 68, "height": 149, "view": {"stroke": "#555555", "strokeWidth": 1.5}, "data": {"values": [{"t": "D"}]}, "mark": {"type": "text", "font": "Open Sans", "fontSize": 16, "color": "#222222"}, "encoding": {"text": {"field": "t"}, "x": {"datum": 0.5, "type": "quantitative", "scale": {"domain": [0, 1]}, "axis": null}, "y": {"datum": 0.5, "type": "quantitative", "scale": {"domain": [0, 1]}, "axis": null}}},
 {"width":217,"height":149,"layer":[
  {"data":{"name":"D"},"transform":[{"filter":"datum.r == 0.125"},{"fold":["0","5","10","15","20"],"as":["level","ratio"]}],
   "mark":{"type":"line","strokeCap":"butt","strokeJoin":"round"},
   "encoding":{
    "x":{"field":"d","type":"quantitative","title":"Duration (hour)","scale":{"domain":[0,48],"range":[62,177]},"axis":{"values":[0,6,12,18,24,30,36,42,48],"offset":-37,"labelOverlap":false}},
    "y":{"field":"ratio","type":"quantitative","title":"Storage ratio","scale":{"domain":[0,1],"range":[112,12]},"axis":{"values":[0,0.2,0.4,0.6,0.8,1],"format":".1f","offset":-62,"labelOverlap":false}},
    "color":{"field":"level","type":"nominal","title":null,"scale":{"domain":["0","5","10","15","20"],"range":["#a0a0a0","#000000","#000000","#777777","#000000"]}},
    "strokeDash":{"field":"level","type":"nominal","title":null,"scale":{"domain":["0","5","10","15","20"],"range":[[1,0],[6,3],[3,2],[1,1],[1,0]]}},
    "strokeWidth":{"field":"level","type":"nominal","title":null,"scale":{"type":"ordinal","domain":["0","5","10","15","20"],"range":[1,1.5,1.2,1,2.2]}}
   }},
  {"data":{"values":[{}]},"mark":{"type":"rect","fill":"transparent","stroke":"#8c8c8c","strokeWidth":1},
   "encoding":{"x":{"datum":0,"type":"quantitative","title":"Duration (hour)","scale":{"domain":[0,48],"range":[62,177]},"axis":{"values":[0,6,12,18,24,30,36,42,48],"offset":-37,"labelOverlap":false}},"x2":{"datum":48},"y":{"datum":0,"type":"quantitative","title":"Storage ratio","scale":{"domain":[0,1],"range":[112,12]},"axis":{"values":[0,0.2,0.4,0.6,0.8,1],"format":".1f","offset":-62,"labelOverlap":false}},"y2":{"datum":1}}}
 ]},
 {"width":217,"height":149,"layer":[
  {"data":{"name":"D"},"transform":[{"filter":"datum.r == 0.375"},{"fold":["0","5","10","15","20"],"as":["level","ratio"]}],
   "mark":{"type":"line","strokeCap":"butt","strokeJoin":"round"},
   "encoding":{
    "x":{"field":"d","type":"quantitative","title":"Duration (hour)","scale":{"domain":[0,48],"range":[62,177]},"axis":{"values":[0,6,12,18,24,30,36,42,48],"offset":-37,"labelOverlap":false}},
    "y":{"field":"ratio","type":"quantitative","title":"Storage ratio","scale":{"domain":[0,1],"range":[112,12]},"axis":{"values":[0,0.2,0.4,0.6,0.8,1],"format":".1f","offset":-62,"labelOverlap":false}},
    "color":{"field":"level","type":"nominal","title":null,"scale":{"domain":["0","5","10","15","20"],"range":["#a0a0a0","#000000","#000000","#777777","#000000"]}},
    "strokeDash":{"field":"level","type":"nominal","title":null,"scale":{"domain":["0","5","10","15","20"],"range":[[1,0],[6,3],[3,2],[1,1],[1,0]]}},
    "strokeWidth":{"field":"level","type":"nominal","title":null,"scale":{"type":"ordinal","domain":["0","5","10","15","20"],"range":[1,1.5,1.2,1,2.2]}}
   }},
  {"data":{"values":[{}]},"mark":{"type":"rect","fill":"transparent","stroke":"#8c8c8c","strokeWidth":1},
   "encoding":{"x":{"datum":0,"type":"quantitative","title":"Duration (hour)","scale":{"domain":[0,48],"range":[62,177]},"axis":{"values":[0,6,12,18,24,30,36,42,48],"offset":-37,"labelOverlap":false}},"x2":{"datum":48},"y":{"datum":0,"type":"quantitative","title":"Storage ratio","scale":{"domain":[0,1],"range":[112,12]},"axis":{"values":[0,0.2,0.4,0.6,0.8,1],"format":".1f","offset":-62,"labelOverlap":false}},"y2":{"datum":1}}}
 ]},
 {"width":217,"height":149,"layer":[
  {"data":{"name":"D"},"transform":[{"filter":"datum.r == 0.625"},{"fold":["0","5","10","15","20"],"as":["level","ratio"]}],
   "mark":{"type":"line","strokeCap":"butt","strokeJoin":"round"},
   "encoding":{
    "x":{"field":"d","type":"quantitative","title":"Duration (hour)","scale":{"domain":[0,48],"range":[62,177]},"axis":{"values":[0,6,12,18,24,30,36,42,48],"offset":-37,"labelOverlap":false}},
    "y":{"field":"ratio","type":"quantitative","title":"Storage ratio","scale":{"domain":[0,1],"range":[112,12]},"axis":{"values":[0,0.2,0.4,0.6,0.8,1],"format":".1f","offset":-62,"labelOverlap":false}},
    "color":{"field":"level","type":"nominal","title":null,"scale":{"domain":["0","5","10","15","20"],"range":["#a0a0a0","#000000","#000000","#777777","#000000"]}},
    "strokeDash":{"field":"level","type":"nominal","title":null,"scale":{"domain":["0","5","10","15","20"],"range":[[1,0],[6,3],[3,2],[1,1],[1,0]]}},
    "strokeWidth":{"field":"level","type":"nominal","title":null,"scale":{"type":"ordinal","domain":["0","5","10","15","20"],"range":[1,1.5,1.2,1,2.2]}}
   }},
  {"data":{"values":[{}]},"mark":{"type":"rect","fill":"transparent","stroke":"#8c8c8c","strokeWidth":1},
   "encoding":{"x":{"datum":0,"type":"quantitative","title":"Duration (hour)","scale":{"domain":[0,48],"range":[62,177]},"axis":{"values":[0,6,12,18,24,30,36,42,48],"offset":-37,"labelOverlap":false}},"x2":{"datum":48},"y":{"datum":0,"type":"quantitative","title":"Storage ratio","scale":{"domain":[0,1],"range":[112,12]},"axis":{"values":[0,0.2,0.4,0.6,0.8,1],"format":".1f","offset":-62,"labelOverlap":false}},"y2":{"datum":1}}}
 ]},
 {"width":217,"height":149,"layer":[
  {"data":{"name":"D"},"transform":[{"filter":"datum.r == 0.875"},{"fold":["0","5","10","15","20"],"as":["level","ratio"]}],
   "mark":{"type":"line","strokeCap":"butt","strokeJoin":"round"},
   "encoding":{
    "x":{"field":"d","type":"quantitative","title":"Duration (hour)","scale":{"domain":[0,48],"range":[62,177]},"axis":{"values":[0,6,12,18,24,30,36,42,48],"offset":-37,"labelOverlap":false}},
    "y":{"field":"ratio","type":"quantitative","title":"Storage ratio","scale":{"domain":[0,1],"range":[112,12]},"axis":{"values":[0,0.2,0.4,0.6,0.8,1],"format":".1f","offset":-62,"labelOverlap":false}},
    "color":{"field":"level","type":"nominal","title":null,"scale":{"domain":["0","5","10","15","20"],"range":["#a0a0a0","#000000","#000000","#777777","#000000"]}},
    "strokeDash":{"field":"level","type":"nominal","title":null,"scale":{"domain":["0","5","10","15","20"],"range":[[1,0],[6,3],[3,2],[1,1],[1,0]]}},
    "strokeWidth":{"field":"level","type":"nominal","title":null,"scale":{"type":"ordinal","domain":["0","5","10","15","20"],"range":[1,1.5,1.2,1,2.2]}}
   }},
  {"data":{"values":[{}]},"mark":{"type":"rect","fill":"transparent","stroke":"#8c8c8c","strokeWidth":1},
   "encoding":{"x":{"datum":0,"type":"quantitative","title":"Duration (hour)","scale":{"domain":[0,48],"range":[62,177]},"axis":{"values":[0,6,12,18,24,30,36,42,48],"offset":-37,"labelOverlap":false}},"x2":{"datum":48},"y":{"datum":0,"type":"quantitative","title":"Storage ratio","scale":{"domain":[0,1],"range":[112,12]},"axis":{"values":[0,0.2,0.4,0.6,0.8,1],"format":".1f","offset":-62,"labelOverlap":false}},"y2":{"datum":1}}}
 ]}
],
"config": {
 "view": {"stroke": "#555555", "strokeWidth": 1.5},
 "concat": {"spacing": 0},
 "axis": {"labelFont": "Liberation Serif", "labelFontSize": 7, "labelColor": "#444444", "titleFont": "Liberation Serif", "titleFontWeight": "normal", "titleColor": "#444444", "ticks": false, "domain": false, "grid": false, "labelFlush": false, "labelOverlap": false, "labelPadding": 4},
 "axisX": {"titleFontSize": 7.5, "titlePadding": 4},
 "axisY": {"titleFontSize": 8.5, "titlePadding": 5},
 "legend": {"orient": "none", "legendX": 136, "legendY": 12, "padding": 1, "strokeColor": "#555555", "fillColor": "#ffffff", "labelFont": "Liberation Serif", "labelFontSize": 7.5, "labelColor": "#333333", "labelAlign": "left", "symbolType": "M-4.25,0H4.25", "symbolSize": 16, "symbolOffset": 10.5, "rowPadding": -2.5, "labelOffset": 17}
}
}
